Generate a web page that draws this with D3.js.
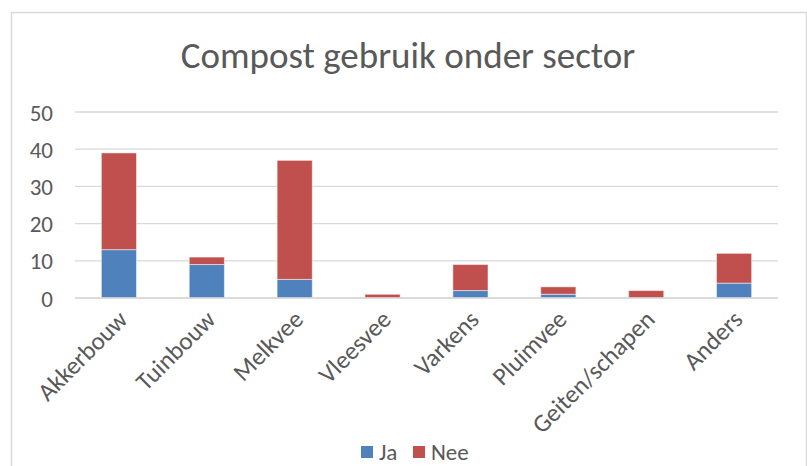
<!DOCTYPE html>
<html>
<head>
<meta charset="utf-8">
<script src="https://cdn.jsdelivr.net/npm/d3@7"></script>
<style>
  body { margin: 0; background: #fff; }
  text { font-family: Carlito, Calibri, Lato, sans-serif; fill: #595959; }
</style>
</head>
<body>
<svg id="chart"></svg>
<script>
// data
var sectors = ["Akkerbouw", "Tuinbouw", "Melkvee", "Vleesvee", "Varkens", "Pluimvee", "Geiten/schapen", "Anders"]
var ja  = [13, 9, 5, 0, 2, 1, 0, 4]
var nee = [26, 2, 32, 1, 7, 2, 2, 8]
var seriesNames = ["Ja", "Nee"]
var seriesColors = ["#4f81bd", "#c0504d"]
var yTicks = [0, 10, 20, 30, 40, 50]

var width = 807, height = 466

var svg = d3.select("#chart")
    .attr("width", width)
    .attr("height", height)

// chart frame
svg.append("rect")
    .attr("x", 11.5).attr("y", 12.5)
    .attr("width", 795).attr("height", 470)
    .attr("fill", "none")
    .attr("stroke", "#d9d9d9")
    .attr("stroke-width", 1.5)

svg.append("text")
    .attr("x", 408).attr("y", 68)
    .attr("text-anchor", "middle")
    .style("font-size", "37px")
    .text("Compost gebruik onder sector")

var left = 75, right = 778, top_ = 112, bottom = 298

var x = d3.scaleBand()
    .domain(sectors)
    .range([left, right])
    .paddingInner(0.6)
    .paddingOuter(0.3)

var y = d3.scaleLinear()
    .domain([0, 50])
    .range([bottom, top_])

// grid
svg.append("g")
  .selectAll("line")
  .data(yTicks)
  .enter().append("line")
    .attr("x1", left).attr("x2", right)
    .attr("y1", d => y(d)).attr("y2", d => y(d))
    .attr("stroke", "#d9d9d9")
    .attr("stroke-width", 1.3)

var yAxis = svg.append("g")
    .attr("transform", "translate(" + (left - 22) + ",0)")
    .call(d3.axisLeft(y).tickValues(yTicks).tickSize(0).tickPadding(0))
yAxis.select(".domain").remove()
yAxis.selectAll("text")
    .style("font-size", "23px")
    .attr("dy", "0.35em")

// stacked bars
var rows = sectors.map((s, i) => ({ sector: s, Ja: ja[i], Nee: nee[i] }))
var stack = d3.stack().keys(seriesNames)(rows)

svg.append("g")
  .selectAll("g")
  .data(stack)
  .enter().append("g")
    .attr("fill", (d, i) => seriesColors[i])
  .selectAll("rect")
  .data(d => d.filter(p => p[1] > p[0]))
  .enter().append("rect")
    .attr("x", d => x(d.data.sector))
    .attr("width", x.bandwidth())
    .attr("y", d => y(d[1]))
    .attr("height", d => y(d[0]) - y(d[1]))
    .attr("stroke", "#fff")
    .attr("stroke-opacity", 0.5)
    .attr("stroke-width", 1)

// baseline
svg.append("line")
    .attr("x1", left).attr("x2", right)
    .attr("y1", bottom).attr("y2", bottom)
    .attr("stroke", "#d9d9d9")
    .attr("stroke-width", 1.5)

// category labels
svg.append("g")
  .selectAll("text")
  .data(sectors)
  .enter().append("text")
    .attr("text-anchor", "end")
    .style("font-size", "25px")
    .attr("transform", d => "translate(" + (x(d) + x.bandwidth() / 2 + 10) + "," + (bottom + 23) + ") rotate(-45)")
    .text(d => d)

// legend
var legend = svg.append("g")
var legX = [361, 413]
seriesNames.forEach((name, i) => {
  legend.append("rect")
      .attr("x", legX[i]).attr("y", 446)
      .attr("width", 12).attr("height", 12)
      .attr("fill", seriesColors[i])
  legend.append("text")
      .attr("x", legX[i] + 18).attr("y", 460)
      .style("font-size", "23px")
      .text(name)
})
</script>
</body>
</html>
